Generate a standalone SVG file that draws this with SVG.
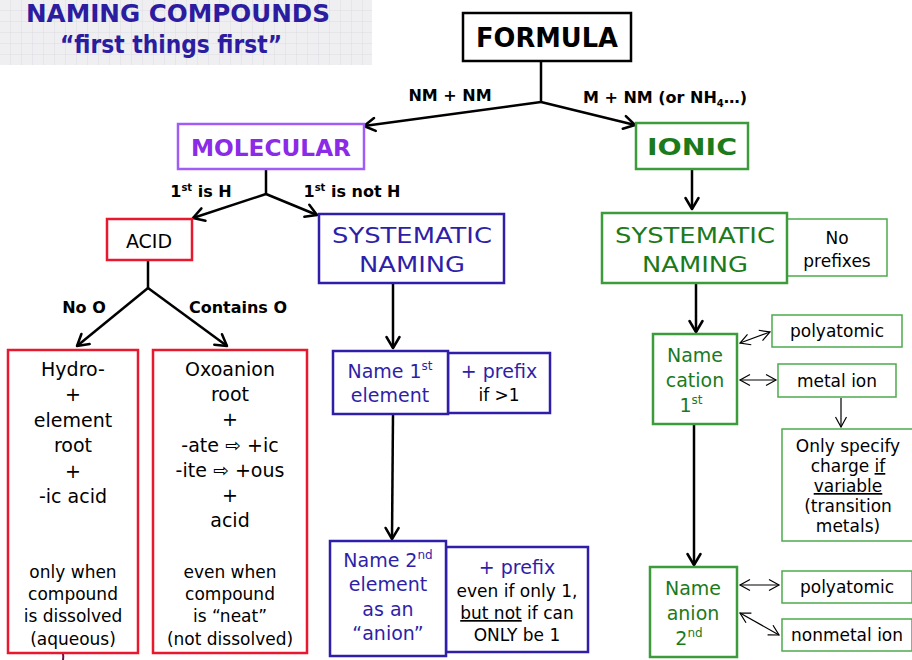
<svg xmlns="http://www.w3.org/2000/svg" width="912" height="660" viewBox="0 0 912 660">
<defs>
<pattern id="grid" width="11" height="11" patternUnits="userSpaceOnUse">
<rect width="11" height="11" fill="#efeff2"/>
<path d="M11,0 V11 H0" fill="none" stroke="#dcdce2" stroke-width="1"/>
</pattern>
<marker id="ah" markerUnits="userSpaceOnUse" markerWidth="16" markerHeight="16" refX="13" refY="8" orient="auto">
<path d="M2,1.5 L13,8 L2,14.5" fill="none" stroke="#000" stroke-width="2.5" stroke-linecap="round" stroke-linejoin="round"/>
</marker>
<marker id="ahs" markerUnits="userSpaceOnUse" markerWidth="14" markerHeight="14" refX="11" refY="7" orient="auto-start-reverse">
<path d="M1,1.5 L11,7 L1,12.5" fill="none" stroke="#000" stroke-width="1.2"/>
</marker>
<style>
text{font-family:"DejaVu Sans","Liberation Sans",sans-serif;text-anchor:middle}
.t{font-size:19px;fill:#000}
.s{font-size:17px;fill:#000}
.lbl{font-size:16px;font-weight:bold;fill:#000}
.blue{fill:#2f1fa8}
.green{fill:#1b7a1b}
.box{fill:#fff}
.bk{stroke:#000;stroke-width:2.5}
.pu{stroke:#a05cf5;stroke-width:2.5}
.rd{stroke:#e8192f;stroke-width:2.5}
.bl{stroke:#2f1fa8;stroke-width:2.5}
.gr{stroke:#3c9c3c;stroke-width:2.5}
.grt{stroke:#4caa4c;stroke-width:1.5}
.c{fill:none;stroke:#000;stroke-width:2.5}
.ct{fill:none;stroke:#000;stroke-width:1.2}
.u{text-decoration:underline}
</style>
</defs>
<rect width="912" height="660" fill="#fff"/>

<g id="title">
<rect x="0" y="0" width="372" height="65" fill="url(#grid)"/>
<text x="178" y="22" font-size="25" font-weight="bold" fill="#2b1ca0" textLength="304" lengthAdjust="spacingAndGlyphs">NAMING COMPOUNDS</text>
<text x="171" y="53" font-size="25" font-weight="bold" fill="#2b1ca0" textLength="222" lengthAdjust="spacingAndGlyphs">“first things first”</text>
</g>

<g id="connectors">
<polyline class="c" points="541,61 541,102"/>
<line class="c" x1="541" y1="102" x2="364" y2="126" marker-end="url(#ah)"/>
<line class="c" x1="541" y1="102" x2="635" y2="125" marker-end="url(#ah)"/>
<line class="c" x1="266" y1="169" x2="266" y2="194"/>
<line class="c" x1="266" y1="194" x2="193" y2="218" marker-end="url(#ah)"/>
<line class="c" x1="266" y1="194" x2="317" y2="215" marker-end="url(#ah)"/>
<line class="c" x1="148" y1="260" x2="148" y2="288"/>
<line class="c" x1="148" y1="288" x2="77" y2="346" marker-end="url(#ah)"/>
<line class="c" x1="148" y1="288" x2="227" y2="346" marker-end="url(#ah)"/>
<line class="c" x1="393" y1="283" x2="393" y2="348" marker-end="url(#ah)"/>
<line class="c" x1="393" y1="414" x2="392" y2="539" marker-end="url(#ah)"/>
<line class="c" x1="692" y1="169" x2="692" y2="209" marker-end="url(#ah)"/>
<line class="c" x1="696" y1="283" x2="696" y2="332" marker-end="url(#ah)"/>
<line class="c" x1="694" y1="424" x2="694" y2="565" marker-end="url(#ah)"/>
<line class="ct" x1="740" y1="343" x2="770" y2="332" marker-start="url(#ahs)" marker-end="url(#ahs)"/>
<line class="ct" x1="740" y1="380" x2="776" y2="380" marker-start="url(#ahs)" marker-end="url(#ahs)"/>
<line class="ct" x1="841" y1="398" x2="841" y2="427" marker-end="url(#ahs)"/>
<line class="ct" x1="740" y1="585" x2="779" y2="585" marker-start="url(#ahs)" marker-end="url(#ahs)"/>
<line class="ct" x1="740" y1="613" x2="779" y2="635" marker-start="url(#ahs)" marker-end="url(#ahs)"/>
<path d="M61,646 Q64,652 63,660" fill="none" stroke="#6a1040" stroke-width="2"/>
</g>

<g id="labels">
<text class="lbl" x="450" y="101">NM + NM</text>
<text class="lbl" x="665" y="103">M + NM (or NH<tspan font-size="10" dy="4">4</tspan><tspan dy="-4">…)</tspan></text>
<text class="lbl" x="201" y="197">1<tspan font-size="10" dy="-6">st</tspan><tspan dy="6"> is H</tspan></text>
<text class="lbl" x="352" y="197">1<tspan font-size="10" dy="-6">st</tspan><tspan dy="6"> is not H</tspan></text>
<text class="lbl" x="84" y="313">No O</text>
<text class="lbl" x="238" y="313">Contains O</text>
</g>

<g id="formula">
<rect class="box bk" x="463" y="13" width="168" height="48"/>
<text x="547" y="47" font-size="26" font-weight="bold" fill="#000" textLength="142" lengthAdjust="spacingAndGlyphs">FORMULA</text>
</g>

<g id="molecular">
<rect class="box pu" x="178" y="124" width="186" height="45"/>
<text x="271" y="156" font-size="23" font-weight="bold" fill="#8b2be8" textLength="160" lengthAdjust="spacingAndGlyphs">MOLECULAR</text>
</g>

<g id="ionic">
<rect class="box gr" x="636" y="123" width="112" height="46"/>
<text x="692" y="155" font-size="23" font-weight="bold" fill="#1b7a1b" textLength="90" lengthAdjust="spacingAndGlyphs">IONIC</text>
</g>

<g id="acid">
<rect class="box rd" x="107" y="219" width="85" height="41"/>
<text class="t" x="149" y="248">ACID</text>
</g>

<g id="sys-molecular">
<rect class="box bl" x="319" y="214" width="185" height="69"/>
<text x="412" y="243" font-size="22" class="blue" textLength="160" lengthAdjust="spacingAndGlyphs">SYSTEMATIC</text>
<text x="412" y="272" font-size="22" class="blue" textLength="106" lengthAdjust="spacingAndGlyphs">NAMING</text>
</g>

<g id="hydro">
<rect class="box rd" x="8" y="350" width="130" height="303"/>
<text class="t" x="73" y="376">Hydro-</text>
<text class="t" x="73" y="401">+</text>
<text class="t" x="73" y="427">element</text>
<text class="t" x="73" y="452">root</text>
<text class="t" x="73" y="478">+</text>
<text class="t" x="73" y="503">-ic acid</text>
<text class="s" x="73" y="578">only when</text>
<text class="s" x="73" y="600">compound</text>
<text class="s" x="73" y="622">is dissolved</text>
<text class="s" x="73" y="645">(aqueous)</text>
</g>

<g id="oxoanion">
<rect class="box rd" x="153" y="350" width="154" height="303"/>
<text class="t" x="230" y="376">Oxoanion</text>
<text class="t" x="230" y="401">root</text>
<text class="t" x="230" y="426">+</text>
<text class="t" x="230" y="452">-ate ⇨ +ic</text>
<text class="t" x="230" y="477">-ite ⇨ +ous</text>
<text class="t" x="230" y="502">+</text>
<text class="t" x="230" y="527">acid</text>
<text class="s" x="230" y="578">even when</text>
<text class="s" x="230" y="600">compound</text>
<text class="s" x="230" y="622">is “neat”</text>
<text class="s" x="230" y="645">(not dissolved)</text>
</g>

<g id="name-first-element">
<rect class="box bl" x="448" y="353" width="102" height="60"/>
<rect class="box bl" x="333" y="351" width="115" height="63"/>
<text class="t blue" x="390" y="378">Name 1<tspan font-size="12" dy="-8">st</tspan></text>
<text class="t blue" x="390" y="402">element</text>
<text class="t blue" x="499" y="378">+ prefix</text>
<text class="s" x="499" y="401">if &gt;1</text>
</g>

<g id="name-second-element">
<rect class="box bl" x="446" y="547" width="142" height="105"/>
<rect class="box bl" x="330" y="541" width="116" height="115"/>
<text class="t blue" x="388" y="567">Name 2<tspan font-size="12" dy="-8">nd</tspan></text>
<text class="t blue" x="388" y="591">element</text>
<text class="t blue" x="388" y="616">as an</text>
<text class="t blue" x="388" y="640">“anion”</text>
<text class="t blue" x="517" y="574">+ prefix</text>
<text class="s" x="517" y="597">even if only 1,</text>
<text class="s" x="517" y="619"><tspan class="u">but not</tspan> if can</text>
<text class="s" x="517" y="641">ONLY be 1</text>
</g>

<g id="sys-ionic">
<rect class="box grt" x="787" y="219" width="100" height="57" stroke-width="2.5"/>
<rect class="box gr" x="602" y="213" width="185" height="70"/>
<text x="695" y="243" font-size="22" class="green" textLength="160" lengthAdjust="spacingAndGlyphs">SYSTEMATIC</text>
<text x="695" y="272" font-size="22" class="green" textLength="106" lengthAdjust="spacingAndGlyphs">NAMING</text>
<text class="s" x="837" y="244">No</text>
<text class="s" x="837" y="267">prefixes</text>
</g>

<g id="name-cation">
<rect class="box gr" x="653" y="334" width="84" height="90"/>
<text class="t green" x="695" y="362">Name</text>
<text class="t green" x="695" y="387">cation</text>
<text class="t green" x="691" y="412">1<tspan font-size="12" dy="-8">st</tspan></text>
</g>

<g id="polyatomic-cation">
<rect class="box grt" x="772" y="315" width="130" height="32"/>
<text class="s" x="837" y="337">polyatomic</text>
</g>

<g id="metal-ion">
<rect class="box grt" x="778" y="364" width="118" height="33"/>
<text class="s" x="837" y="387">metal ion</text>
</g>

<g id="charge-note">
<rect class="box grt" x="782" y="429" width="132" height="112"/>
<text class="s" x="848" y="452">Only specify</text>
<text class="s" x="848" y="472">charge <tspan class="u">if</tspan></text>
<text class="s" x="848" y="492"><tspan class="u">variable</tspan></text>
<text class="s" x="848" y="512">(transition</text>
<text class="s" x="848" y="532">metals)</text>
</g>

<g id="name-anion">
<rect class="box gr" x="650" y="567" width="87" height="90"/>
<text class="t green" x="693" y="595">Name</text>
<text class="t green" x="693" y="620">anion</text>
<text class="t green" x="689" y="645">2<tspan font-size="12" dy="-8">nd</tspan></text>
</g>

<g id="polyatomic-anion">
<rect class="box grt" x="782" y="571" width="130" height="32"/>
<text class="s" x="847" y="593">polyatomic</text>
</g>

<g id="nonmetal-ion">
<rect class="box grt" x="782" y="619" width="130" height="32"/>
<text class="s" x="847" y="641">nonmetal ion</text>
</g>
</svg>
